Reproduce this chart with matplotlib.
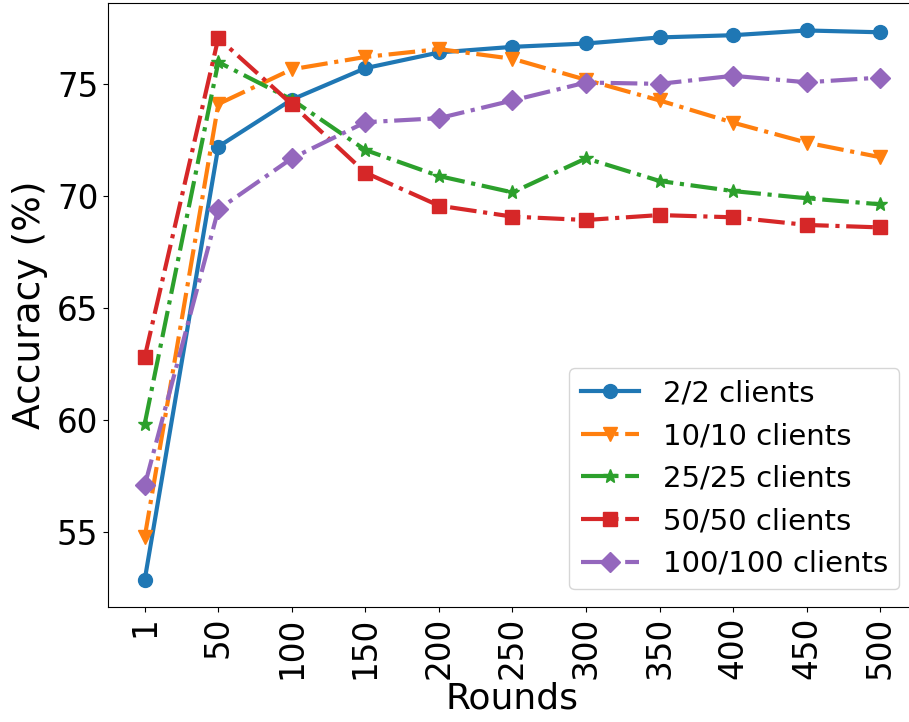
import matplotlib
matplotlib.use("Agg")
import matplotlib.pyplot as plt

rounds = ["1", "50", "100", "150", "200", "250", "300", "350", "400", "450", "500"]

acc_2 = [52.9, 72.2, 74.3, 75.7, 76.4, 76.65, 76.8, 77.07, 77.17, 77.38, 77.3]
acc_10 = [54.8, 74.1, 75.65, 76.2, 76.55, 76.12, 75.18, 74.26, 73.27, 72.38, 71.73]
acc_25 = [59.85, 75.97, 74.3, 72.05, 70.89, 70.16, 71.68, 70.67, 70.22, 69.9, 69.63]
acc_50 = [62.83, 77.04, 74.09, 71.04, 69.57, 69.08, 68.93, 69.15, 69.05, 68.71, 68.6]
acc_100 = [57.1, 69.4, 71.68, 73.29, 73.47, 74.26, 75.06, 75.0, 75.36, 75.07, 75.28]

series = [
    ("2/2 clients", acc_2, "o", "-"),
    ("10/10 clients", acc_10, "v", "-."),
    ("25/25 clients", acc_25, "*", "-."),
    ("50/50 clients", acc_50, "s", "-."),
    ("100/100 clients", acc_100, "D", "-."),
]

fig = plt.figure(figsize=(9.09, 7.22), dpi=100)
ax = fig.add_axes([0.1188, 0.1593, 0.8900, 0.8365])

x = list(range(len(rounds)))
for label, vals, mk, ls in series:
    ax.plot(x, vals, linestyle=ls, marker=mk, linewidth=3, markersize=10, label=label)

ax.set_xticks(x)
ax.set_xticklabels(rounds, rotation=90)
ax.tick_params(axis="both", labelsize=23.5)
ax.set_xlabel("Rounds", fontsize=26, labelpad=2)
ax.set_ylabel("Accuracy (%)", fontsize=27, labelpad=6)
ax.legend(loc="lower right", fontsize=21, borderaxespad=0.6)

fig.savefig("out.png", dpi=100)
